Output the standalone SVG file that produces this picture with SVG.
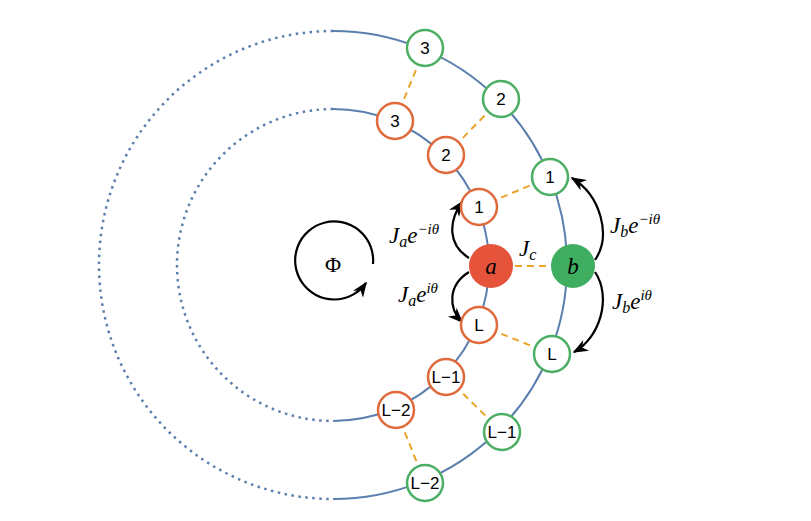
<svg xmlns="http://www.w3.org/2000/svg" width="811" height="521" viewBox="0 0 811 521">
<defs>
<marker id="ah" viewBox="0 0 10 10" refX="9" refY="5" markerWidth="7" markerHeight="7" orient="auto-start-reverse"><path d="M0,1 L10,5 L0,9 L3,5 Z" fill="#000"/></marker>
<style>
.ring{fill:none;stroke:#5b7fae;stroke-width:2}
.dot{fill:none;stroke:#5b7fae;stroke-width:2.5;stroke-dasharray:2.5 4.5}
.cp{stroke:#eaa42a;stroke-width:2;stroke-dasharray:7 5}
.on{fill:#fff;stroke:#e06a3c;stroke-width:2.5}
.gn{fill:#fff;stroke:#4caf63;stroke-width:2.5}
.lb{font-family:"Liberation Sans",Arial,sans-serif;font-size:17px;text-anchor:middle;dominant-baseline:central}
.m{font-family:"Liberation Serif","Times New Roman",serif;font-style:italic;font-size:23px}
.hop{fill:none;stroke:#000;stroke-width:2.2;marker-end:url(#ah)}
</style>
</defs>
<rect width="811" height="521" fill="#fff"/>
<g id="rings">
<path class="ring" d="M333,31 A234,234 0 0 1 333,499"/>
<path class="dot" d="M333,31 A234,234 0 0 0 333,499"/>
<path class="ring" d="M333,109 A156,156 0 0 1 333,421"/>
<path class="dot" d="M333,109 A156,156 0 0 0 333,421"/>
</g>
<g id="connectors">
<line class="cp" x1="395" y1="121" x2="425" y2="48"/>
<line class="cp" x1="446" y1="155" x2="501" y2="99"/>
<line class="cp" x1="479" y1="207" x2="550" y2="177"/>
<line class="cp" x1="491" y1="266" x2="573" y2="266"/>
<line class="cp" x1="479" y1="325" x2="552" y2="354"/>
<line class="cp" x1="446" y1="377" x2="502" y2="432"/>
<line class="cp" x1="396" y1="410" x2="425" y2="483"/>
<path class="hop" d="M469,258 C448,245 448,222 462,202"/>
<path class="hop" d="M469,272 C448,285 448,308 462,322"/>
<path class="hop" d="M595,260 C612,235 600,195 572,178"/>
<path class="hop" d="M595,272 C612,297 600,338 574,352"/>
<path class="hop" d="M373,264 A39,39 0 1 0 366,283"/>
</g>
<g id="n-i3"><circle class="on" cx="395" cy="121" r="18"/><text class="lb" x="395" y="121">3</text></g>
<g id="n-i2"><circle class="on" cx="446" cy="155" r="18"/><text class="lb" x="446" y="155">2</text></g>
<g id="n-i1"><circle class="on" cx="479" cy="207" r="18"/><text class="lb" x="479" y="207">1</text></g>
<g id="n-a"><circle cx="491" cy="266" r="22" fill="#e5533a"/><text class="m" x="491" y="274" text-anchor="middle" font-size="25">a</text></g>
<g id="n-iL"><circle class="on" cx="479" cy="325" r="18"/><text class="lb" x="479" y="325">L</text></g>
<g id="n-iL1"><circle class="on" cx="446" cy="377" r="18"/><text class="lb" x="446" y="377">L−1</text></g>
<g id="n-iL2"><circle class="on" cx="396" cy="410" r="18"/><text class="lb" x="396" y="410">L−2</text></g>
<g id="n-o3"><circle class="gn" cx="425" cy="48" r="18"/><text class="lb" x="425" y="48">3</text></g>
<g id="n-o2"><circle class="gn" cx="501" cy="99" r="18"/><text class="lb" x="501" y="99">2</text></g>
<g id="n-o1"><circle class="gn" cx="550" cy="177" r="18"/><text class="lb" x="550" y="177">1</text></g>
<g id="n-b"><circle cx="573" cy="266" r="22" fill="#3fae61"/><text class="m" x="573" y="274" text-anchor="middle" font-size="25">b</text></g>
<g id="n-oL"><circle class="gn" cx="552" cy="354" r="18"/><text class="lb" x="552" y="354">L</text></g>
<g id="n-oL1"><circle class="gn" cx="502" cy="432" r="18"/><text class="lb" x="502" y="432">L−1</text></g>
<g id="n-oL2"><circle class="gn" cx="425" cy="483" r="18"/><text class="lb" x="425" y="483">L−2</text></g>
<g id="labels">
<text x="333" y="272" font-family="Liberation Serif,serif" font-size="22" text-anchor="middle">Φ</text>
<text class="m" x="389" y="243">J<tspan font-size="16" dy="4">a</tspan><tspan dy="-4">e</tspan><tspan font-size="15" dy="-9">−iθ</tspan></text>
<text class="m" x="398" y="302">J<tspan font-size="16" dy="4">a</tspan><tspan dy="-4">e</tspan><tspan font-size="15" dy="-9">iθ</tspan></text>
<text class="m" x="519" y="256">J<tspan font-size="16" dy="4">c</tspan></text>
<text class="m" x="610" y="233">J<tspan font-size="16" dy="4">b</tspan><tspan dy="-4">e</tspan><tspan font-size="15" dy="-9">−iθ</tspan></text>
<text class="m" x="612" y="309">J<tspan font-size="16" dy="4">b</tspan><tspan dy="-4">e</tspan><tspan font-size="15" dy="-9">iθ</tspan></text>
</g>
</svg>
